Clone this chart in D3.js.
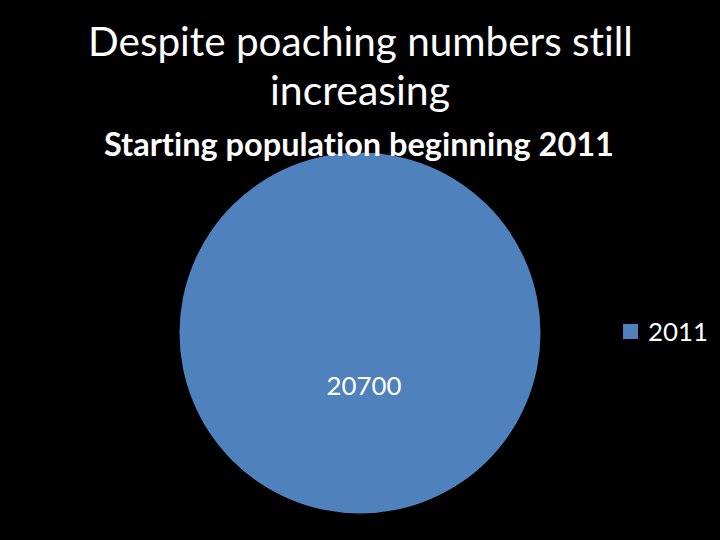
<!DOCTYPE html>
<html><head><meta charset="utf-8">
<script src="https://cdn.jsdelivr.net/npm/d3@7"></script>
<style>html,body{margin:0;padding:0;background:#000;}svg{display:block;}text{font-variant-ligatures:none;font-feature-settings:"liga" 0;}</style>
</head><body>
<svg id="c" width="720" height="540"></svg>
<script>
const titleLines = ["Despite poaching numbers still", "increasing"];
const subtitle = "Starting population beginning 2011";
const categories = ["2011"];
const values = [20700];
const colors = ["#4F81BD"];

const svg = d3.select("#c");
svg.append("rect").attr("width",720).attr("height",540).attr("fill","#000");

const font = "Lato, Carlito, 'Open Sans', sans-serif";
function fit(t, w){ const l=t.node().getComputedTextLength(); const fs=parseFloat(t.attr("font-size")); t.attr("font-size", fs*w/l); }

const cx=360, cy=333, r=180.5;
const pie = d3.pie().sort(null).value(d=>d)(values);
const arc = d3.arc().innerRadius(0).outerRadius(r);
const labelArc = d3.arc().innerRadius(r*0.29).outerRadius(r*0.29);
const g = svg.append("g").attr("transform",`translate(${cx},${cy})`);
g.selectAll("path").data(pie).join("path").attr("d",arc).attr("fill",(d,i)=>colors[i]);
g.selectAll("text").data(pie).join("text")
 .attr("transform",d=>{const c=labelArc.centroid(d);return `translate(${c[0]+4},${c[1]+10})`;})
 .attr("text-anchor","middle").attr("fill","#fff").attr("font-family",font).attr("font-size",28)
 .text((d,i)=>values[i]).each(function(){fit(d3.select(this),75);});

// titles
const t1 = svg.append("text").attr("x",360.5).attr("y",56).attr("text-anchor","middle").attr("fill","#fff")
 .attr("font-family",font).attr("font-size",40).text(titleLines[0]); fit(t1,545);
const t2 = svg.append("text").attr("x",360).attr("y",105).attr("text-anchor","middle").attr("fill","#fff")
 .attr("font-family",font).attr("font-size",40).text(titleLines[1]); fit(t2,180);
const st = svg.append("text").attr("x",359).attr("y",156).attr("text-anchor","middle").attr("fill","#fff")
 .attr("font-family",font).attr("font-weight","bold").attr("font-size",28).text(subtitle); fit(st,510);

// legend
const lg = svg.append("g").attr("transform","translate(623,324)");
categories.forEach((c,i)=>{
  lg.append("rect").attr("x",0).attr("y",i*30).attr("width",15).attr("height",15).attr("fill",colors[i]);
  const lt = lg.append("text").attr("x",25).attr("y",i*30+17).attr("fill","#fff").attr("font-family",font).attr("font-size",28).text(c);
  fit(lt,60);
});
</script>
</body></html>
